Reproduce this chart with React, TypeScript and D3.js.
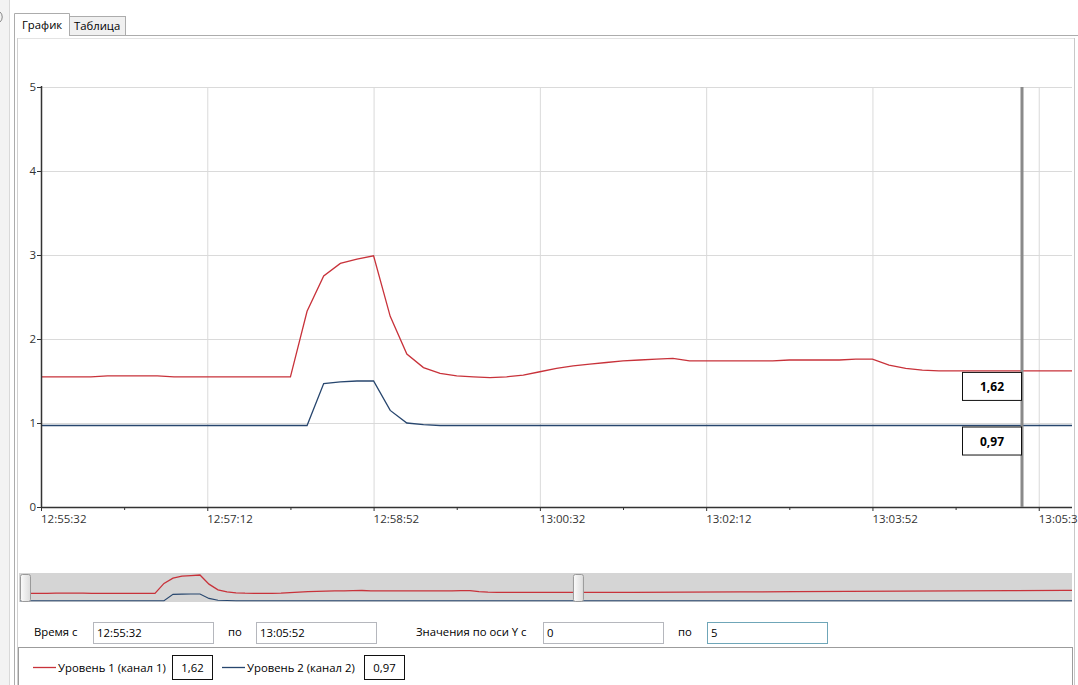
import React from "react";
import * as d3 from "d3";

// ---------- data ----------
const viewStart = "12:55:32";
const viewEnd = "13:05:52";
const sampleStepSec = 10;
const level1 = [
  1.55, 1.55, 1.55, 1.55, 1.56, 1.56, 1.56, 1.56, 1.55, 1.55, 1.55, 1.55, 1.55, 1.55, 1.55, 1.55,
  2.33, 2.75, 2.9, 2.95, 2.99, 2.27, 1.82, 1.66, 1.59, 1.56, 1.55, 1.54, 1.55, 1.57, 1.61, 1.65,
  1.68, 1.7, 1.72, 1.74, 1.75, 1.76, 1.77, 1.74, 1.74, 1.74, 1.74, 1.74, 1.74, 1.75, 1.75, 1.75,
  1.75, 1.76, 1.76, 1.69, 1.65, 1.63, 1.62, 1.62, 1.62, 1.62, 1.62, 1.62, 1.62, 1.62, 1.62,
];
const level2 = [
  0.97, 0.97, 0.97, 0.97, 0.97, 0.97, 0.97, 0.97, 0.97, 0.97, 0.97, 0.97, 0.97, 0.97, 0.97, 0.97,
  0.97, 1.47, 1.49, 1.5, 1.5, 1.15, 1.0, 0.98, 0.97, 0.97, 0.97, 0.97, 0.97, 0.97, 0.97, 0.97,
  0.97, 0.97, 0.97, 0.97, 0.97, 0.97, 0.97, 0.97, 0.97, 0.97, 0.97, 0.97, 0.97, 0.97, 0.97, 0.97,
  0.97, 0.97, 0.97, 0.97, 0.97, 0.97, 0.97, 0.97, 0.97, 0.97, 0.97, 0.97, 0.97, 0.97, 0.97,
];
// overview (navigator) continuation after the visible window
const tailTimes = ["13:06:52", "13:07:52", "13:08:52", "13:09:52", "13:10:52", "13:11:52", "13:12:52", "13:13:52", "13:14:52", "13:15:52"];
const tailLevel1 = [1.63, 1.64, 1.66, 1.68, 1.7, 1.72, 1.74, 1.76, 1.78, 1.8];
const tailLevel2 = [0.97, 0.97, 0.97, 0.97, 0.97, 0.97, 0.97, 0.97, 0.97, 0.97];
const overviewStart = "12:55:32";
const overviewEnd = "13:15:01";

const xTickLabels = ["12:55:32", "12:57:12", "12:58:52", "13:00:32", "13:02:12", "13:03:52", "13:05:32"];
const xMinorTicks = ["12:56:22", "12:58:02", "12:59:42", "13:01:22", "13:03:02", "13:04:42"];
const yTicks = [0, 1, 2, 3, 4, 5];
const cursorTime = "13:05:22";
const seriesNames = ["Уровень 1 (канал 1)", "Уровень 2 (канал 2)"];
const seriesColors = ["#c8323a", "#27466e"];
const yRange = ["0", "5"];

// ---------- helpers ----------
const parse = d3.timeParse("%H:%M:%S");
const fmt = (v: number) => d3.format(".2f")(v).replace(".", ",");
const FONT = "'Open Sans', 'Noto Sans', sans-serif";
const UI = 11.3;

export default function App() {
  const t0 = parse(viewStart)!;
  const times = level1.map((_, i) => d3.timeSecond.offset(t0, i * sampleStepSec));
  const s1 = times.map((t, i) => ({ t, v: level1[i] }));
  const s2 = times.map((t, i) => ({ t, v: level2[i] }));

  const x = d3.scaleTime().domain([parse(viewStart)!, parse(viewEnd)!]).range([41, 1072]);
  const y = d3.scaleLinear().domain([0, 5]).range([507, 87]);
  const line = d3
    .line<{ t: Date; v: number }>()
    .x((d) => x(d.t))
    .y((d) => y(d.v));

  // overview
  const ox = d3.scaleTime().domain([parse(overviewStart)!, parse(overviewEnd)!]).range([20, 1072]);
  const oy = d3.scaleLinear().domain([0, 5]).range([613, 549.5]);
  const oLine = d3
    .line<{ t: Date; v: number }>()
    .x((d) => ox(d.t))
    .y((d) => oy(d.v));
  const tailT = tailTimes.map((s) => parse(s)!);
  const o1 = [...s1, ...tailT.map((t, i) => ({ t, v: tailLevel1[i] }))];
  const o2 = [...s2, ...tailT.map((t, i) => ({ t, v: tailLevel2[i] }))];
  const thumbL = ox(parse(viewStart)!) + 5;
  const thumbR = ox(parse(viewEnd)!);

  const cx = Math.round(x(parse(cursorTime)!));
  const cIdx = d3.bisector((d: Date) => d).left(times, parse(cursorTime)!);
  const curVals = [level1[Math.min(cIdx, level1.length - 1)], level2[Math.min(cIdx, level2.length - 1)]];

  return (
    <svg width={1078} height={685} style={{ position: "absolute", left: 0, top: 0, background: "#fff" }} fontFamily={FONT}>
      <defs>
        <clipPath id="plot">
          <rect x={41} y={80} width={1031} height={428} />
        </clipPath>
        <clipPath id="nav">
          <rect x={19} y={573} width={1053} height={29} />
        </clipPath>
        <linearGradient id="thumb" x1="0" x2="1" y1="0" y2="0">
          <stop offset="0" stopColor="#fbfbfb" />
          <stop offset="1" stopColor="#dcdcdc" />
        </linearGradient>
      </defs>
      <rect x={0} y={0} width={1078} height={685} fill="#fff" />
      {/* window chrome */}
      <rect x={0} y={0} width={9} height={685} fill="#f3f3f3" />
      <line x1={9.5} y1={0} x2={9.5} y2={685} stroke="#d9d9d9" />
      <path d="M0,12 A5,6 0 0 1 0,22" fill="none" stroke="#888" />
      <line x1={14.5} y1={35} x2={14.5} y2={685} stroke="#acacac" />
      <line x1={17.5} y1={38} x2={17.5} y2={685} stroke="#d0d0d0" />
      <line x1={125} y1={35.5} x2={1078} y2={35.5} stroke="#acacac" />
      <line x1={18} y1={38.5} x2={1074} y2={38.5} stroke="#e3e3e3" />
      <line x1={1074.5} y1={38} x2={1074.5} y2={685} stroke="#c8c8c8" />
      {/* tabs */}
      <rect x={69.5} y={16.5} width={56} height={19} fill="#f0f0f0" stroke="#acacac" />
      <path d="M14.5,36 L14.5,13.5 L69.5,13.5 L69.5,36" fill="#fff" stroke="#acacac" />
      <text x={22} y={29} fontSize={UI} fill="#000">График</text>
      <text x={74} y={30} fontSize={UI} fill="#000">Таблица</text>

      {/* grid */}
      {yTicks.map((v) => (
        <line key={"gy" + v} x1={41} x2={1072} y1={y(v) + 0.5} y2={y(v) + 0.5} stroke="#dadada" />
      ))}
      {xTickLabels.map((s) => (
        <line key={"gx" + s} x1={x(parse(s)!) + 0.5} x2={x(parse(s)!) + 0.5} y1={87} y2={507} stroke="#dadada" />
      ))}

      {/* series */}
      <g clipPath="url(#plot)">
        <path d={line(s1)!} fill="none" stroke={seriesColors[0]} strokeWidth={1.3} />
        <path d={line(s2)!} fill="none" stroke={seriesColors[1]} strokeWidth={1.3} />
      </g>

      {/* axes */}
      <line x1={41.5} x2={41.5} y1={86} y2={508} stroke="#333" strokeWidth={1.5} />
      <line x1={41} x2={1072} y1={507.5} y2={507.5} stroke="#333" strokeWidth={1.5} />
      {yTicks.map((v) => (
        <g key={"yt" + v}>
          <line x1={37} x2={41} y1={y(v) + 0.5} y2={y(v) + 0.5} stroke="#333" />
          <text x={36} y={y(v) + 4} fontSize={11.5} textAnchor="end" fill="#333">
            {v}
          </text>
        </g>
      ))}
      {xTickLabels.map((s) => (
        <g key={"xt" + s}>
          <line x1={x(parse(s)!) + 0.5} x2={x(parse(s)!) + 0.5} y1={507} y2={511} stroke="#333" />
          <text x={x(parse(s)!)} y={523} fontSize={11.5} fill="#333">
            {s}
          </text>
        </g>
      ))}
      {xMinorTicks.map((s) => (
        <line key={"mt" + s} x1={x(parse(s)!) + 0.5} x2={x(parse(s)!) + 0.5} y1={507} y2={510} stroke="#333" />
      ))}

      {/* cursor */}
      <line x1={cx} x2={cx} y1={87} y2={507} stroke="#8a8a8a" strokeWidth={3} />
      {curVals.map((v, i) => (
        <g key={"cl" + i}>
          <rect x={cx - 59.5} y={y(v) + 1.5} width={59} height={28} fill="#fff" stroke="#111" />
          <text x={cx - 30} y={y(v) + 20} fontSize={12} fontWeight="bold" textAnchor="middle" fill="#000">
            {fmt(v)}
          </text>
        </g>
      ))}

      {/* navigator */}
      <rect x={19} y={573} width={1053} height={29} fill="#d5d5d5" />
      <g clipPath="url(#nav)">
        <path d={oLine(o1)!} fill="none" stroke={seriesColors[0]} strokeWidth={1.3} />
        <path d={oLine(o2)!} fill="none" stroke={seriesColors[1]} strokeWidth={1.1} />
      </g>
      <rect x={thumbL - 4.5} y={574.5} width={10} height={27} rx={2} fill="url(#thumb)" stroke="#9a9a9a" />
      <rect x={thumbR - 4.5} y={574.5} width={10} height={27} rx={2} fill="url(#thumb)" stroke="#9a9a9a" />

      {/* range inputs */}
      <text x={34} y={636} fontSize={UI} fill="#000">Время с</text>
      <rect x={93.5} y={622.5} width={120} height={21} fill="#fff" stroke="#b5b7bd" />
      <text x={97} y={637} fontSize={UI} fill="#000">{viewStart}</text>
      <text x={228} y={636} fontSize={UI} fill="#000">по</text>
      <rect x={256.5} y={622.5} width={120} height={21} fill="#fff" stroke="#b5b7bd" />
      <text x={260} y={637} fontSize={UI} fill="#000">{viewEnd}</text>
      <text x={416} y={636} fontSize={UI} fill="#000">Значения по оси Y с</text>
      <rect x={543.5} y={622.5} width={120} height={21} fill="#fff" stroke="#b5b7bd" />
      <text x={547} y={637} fontSize={UI} fill="#000">{yRange[0]}</text>
      <text x={678} y={636} fontSize={UI} fill="#000">по</text>
      <rect x={707.5} y={622.5} width={120} height={21} fill="#fff" stroke="#6fa6b8" />
      <text x={711} y={637} fontSize={UI} fill="#000">{yRange[1]}</text>

      {/* legend */}
      <rect x={18.5} y={647.5} width={1054} height={50} fill="#fff" stroke="#9c9c9c" />
      {[0, 1].map((i) => {
        const lx = i === 0 ? 33 : 222;
        const bx = i === 0 ? 172.5 : 364.5;
        return (
          <g key={"lg" + i}>
            <line x1={lx} x2={lx + 23} y1={667.5} y2={667.5} stroke={seriesColors[i]} strokeWidth={1.3} />
            <text x={lx + 25} y={672} fontSize={UI} fill="#000">
              {seriesNames[i]}
            </text>
            <rect x={bx} y={655.5} width={40} height={24} fill="#fff" stroke="#111" />
            <text x={bx + 20} y={672} fontSize={UI} textAnchor="middle" fill="#000">
              {fmt(curVals[i])}
            </text>
          </g>
        );
      })}
    </svg>
  );
}
